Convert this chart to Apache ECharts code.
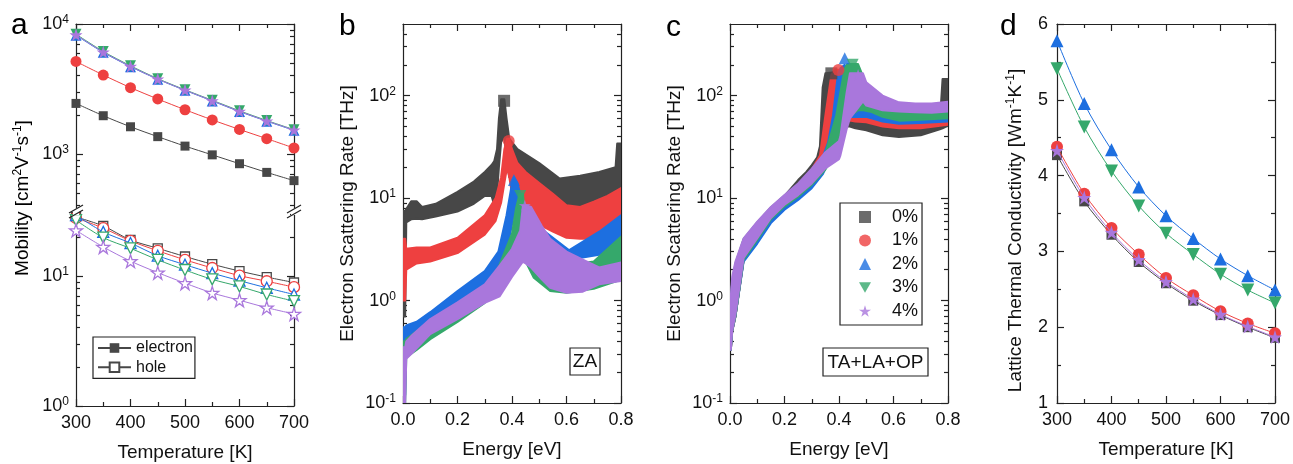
<!DOCTYPE html>
<html>
<head>
<meta charset="utf-8">
<script src="https://cdn.jsdelivr.net/npm/echarts@6/dist/echarts.min.js"></script>
<style>
  html, body { margin: 0; padding: 0; background: #fff; }
  #main { width: 1293px; height: 464px; }
</style>
</head>
<body>
<div id="main"></div>
<script>
// ---- data ----
var temps = [300, 350, 400, 450, 500, 550, 600, 650, 700];
var strains = ['0%', '1%', '2%', '3%', '4%'];

// panel a, electron mobility (upper part, filled markers)
var elec0 = [2450, 1970, 1620, 1360, 1150, 985, 842, 722, 624];
var elec1 = [5150, 4050, 3240, 2650, 2190, 1830, 1545, 1312, 1112];
var elec2 = [8200, 6050, 4700, 3760, 3090, 2560, 2120, 1790, 1520];
var elec3 = [8350, 6150, 4770, 3800, 3120, 2590, 2150, 1810, 1540];
var elec4 = [8250, 6080, 4720, 3770, 3100, 2570, 2130, 1795, 1530];
// panel a, hole mobility (lower part, open markers)
var hole0 = [28.4, 24.2, 18.9, 16.3, 14.1, 12.3, 10.9, 9.8, 8.9];
var hole1 = [27.9, 23.3, 18.6, 15.6, 13.3, 11.5, 10.05, 9.1, 8.2];
var hole2 = [29.3, 21.8, 17.9, 14.3, 12.2, 10.5, 9.2, 8.1, 7.2];
var hole3 = [26.8, 19.7, 16.3, 13.3, 11.1, 9.4, 8.3, 7.2, 6.4];
var hole4 = [22.4, 16.7, 13.0, 10.6, 8.8, 7.4, 6.5, 5.7, 5.1];

// panel b, ZA scattering rate bands: energy, lower edge, upper edge
var bE0 = [0.002, 0.008, 0.012, 0.03, 0.05, 0.07, 0.12, 0.2, 0.26, 0.3, 0.325, 0.335, 0.345, 0.352, 0.36, 0.372, 0.38, 0.39, 0.42, 0.5, 0.575, 0.65, 0.72, 0.78, 0.786, 0.8];
var bLo0 = [0.7, 0.7, 5.8, 6.2, 6.3, 6.2, 6.6, 7.4, 8.8, 10.5, 10.5, 8.5, 11, 20, 35, 40, 24, 16, 14, 10.5, 7.7, 8.2, 9, 10, 10, 10];
var bHi0 = [7.5, 7.5, 7.8, 9.3, 9.3, 8.2, 8.8, 11.5, 14.5, 18, 21, 23, 30, 60, 92, 92, 60, 38, 30, 22, 15.5, 16.5, 18, 20, 34, 34];
var bE1 = [0.002, 0.008, 0.012, 0.05, 0.1, 0.2, 0.3, 0.34, 0.36, 0.372, 0.382, 0.39, 0.4, 0.42, 0.45, 0.5, 0.55, 0.6, 0.65, 0.7, 0.75, 0.8];
var bLo1 = [1.0, 1.0, 2.0, 2.3, 2.4, 2.9, 4.4, 6.0, 9, 14, 20, 16, 11, 8, 6.8, 5.5, 4.7, 4.1, 4.0, 4.0, 4.5, 5.1];
var bHi1 = [4.0, 4.0, 3.2, 3.3, 3.3, 4.1, 6.8, 10, 16, 30, 38, 38, 30, 22, 18, 14, 11, 8.5, 8.2, 9.2, 10.5, 12.5];
var bE2 = [0.002, 0.008, 0.012, 0.05, 0.1, 0.2, 0.3, 0.35, 0.38, 0.4, 0.407, 0.42, 0.44, 0.47, 0.53, 0.61, 0.72, 0.8];
var bLo2 = [0.12, 0.12, 0.41, 0.45, 0.55, 0.82, 1.24, 1.8, 3.0, 5.5, 7, 6, 4.5, 3.5, 2.8, 2.5, 2.8, 4.0];
var bHi2 = [0.55, 0.55, 0.57, 0.62, 0.77, 1.24, 1.94, 3.0, 6.8, 14, 16, 14, 8.5, 6, 4.5, 3.1, 4.7, 6.8];
var bE3 = [0.002, 0.008, 0.012, 0.05, 0.1, 0.2, 0.3, 0.35, 0.4, 0.415, 0.428, 0.44, 0.45, 0.48, 0.54, 0.6, 0.7, 0.8];
var bLo3 = [0.1, 0.1, 0.28, 0.33, 0.42, 0.62, 0.95, 1.3, 2.4, 3.2, 3.5, 3.2, 2.4, 1.67, 1.24, 1.19, 1.3, 1.6];
var bHi3 = [0.4, 0.4, 0.42, 0.5, 0.62, 0.92, 1.4, 2.1, 4.5, 8, 11, 11, 6, 4, 2.6, 2.2, 2.4, 4.2];
var bE4 = [0.002, 0.008, 0.012, 0.03, 0.1, 0.2, 0.3, 0.355, 0.4, 0.43, 0.44, 0.45, 0.47, 0.51, 0.54, 0.6, 0.66, 0.72, 0.8];
var bLo4 = [0.1, 0.1, 0.27, 0.3, 0.47, 0.66, 0.95, 1.1, 1.7, 2.2, 2.4, 2.3, 2.1, 1.6, 1.33, 1.19, 1.22, 1.44, 1.55];
var bHi4 = [0.35, 0.35, 0.4, 0.45, 0.66, 0.96, 1.44, 2.2, 3.2, 4.8, 8.4, 8.5, 8.2, 5.3, 4.0, 3.0, 2.5, 2.1, 2.35];
var bPeakE = [0.371, 0.388, 0.407, 0.43, 0.447];
var bPeakV = [89, 36, 15, 10.5, 8.5];

// panel c, TA+LA+OP scattering rate bands
var cE0 = [0.003, 0.008, 0.02, 0.05, 0.1, 0.15, 0.2, 0.25, 0.28, 0.3, 0.32, 0.33, 0.34, 0.35, 0.375, 0.39, 0.41, 0.44, 0.46, 0.5, 0.56, 0.62, 0.7, 0.77, 0.78, 0.8];
var cLo0 = [0.33, 0.5, 0.7, 2.5, 3.9, 6.2, 8.3, 10.3, 12, 13.5, 16, 18, 22, 28, 40, 46, 50, 50, 48, 46, 41, 39.5, 41, 47, 48, 51];
var cHi0 = [1.0, 1.5, 2.2, 3.9, 5.7, 8.0, 10.5, 15, 18, 21, 25, 32, 120, 165, 168, 140, 100, 70, 62, 58, 50, 48, 50, 55, 145, 145];
var cE1 = [0.003, 0.008, 0.02, 0.05, 0.1, 0.15, 0.2, 0.25, 0.3, 0.33, 0.35, 0.372, 0.385, 0.405, 0.42, 0.44, 0.46, 0.5, 0.56, 0.62, 0.7, 0.8];
var cLo1 = [0.33, 0.5, 0.7, 2.5, 3.9, 6.2, 8.3, 10.3, 13.3, 17, 22, 30, 45, 55, 57, 57, 56, 55, 50, 48, 48, 52];
var cHi1 = [1.0, 1.5, 2.2, 3.9, 5.7, 8.0, 10.5, 13.5, 19, 26, 64, 160, 180, 178, 140, 100, 80, 66, 58, 55, 56, 64];
var cE2 = [0.003, 0.008, 0.02, 0.05, 0.1, 0.15, 0.2, 0.25, 0.3, 0.34, 0.36, 0.378, 0.396, 0.405, 0.421, 0.43, 0.45, 0.5, 0.56, 0.62, 0.7, 0.8];
var cLo2 = [0.33, 0.5, 0.7, 2.4, 3.6, 5.7, 7.7, 9.6, 12.5, 17, 22, 30, 40, 50, 58, 62, 62, 62, 56, 53, 54, 56];
var cHi2 = [1.0, 1.5, 2.2, 3.9, 5.6, 7.9, 10.4, 13.3, 18.5, 25, 35, 64, 160, 185, 200, 170, 120, 75, 66, 62, 63, 70];
var cE3 = [0.003, 0.008, 0.02, 0.05, 0.1, 0.15, 0.2, 0.25, 0.3, 0.35, 0.39, 0.42, 0.43, 0.47, 0.49, 0.52, 0.56, 0.62, 0.7, 0.8];
var cLo3 = [0.33, 0.5, 0.7, 2.5, 3.9, 6.2, 8.3, 10.3, 13.5, 19, 28, 45, 60, 72, 72, 69, 62, 57, 58, 60];
var cHi3 = [1.0, 1.5, 2.3, 4.0, 5.8, 8.1, 10.6, 13.6, 19, 27, 64, 180, 203, 203, 150, 100, 80, 72, 72, 78];
var cE4 = [0.003, 0.008, 0.02, 0.05, 0.1, 0.15, 0.2, 0.25, 0.3, 0.35, 0.4, 0.405, 0.428, 0.44, 0.488, 0.5, 0.56, 0.62, 0.68, 0.74, 0.8];
var cLo4 = [0.33, 0.5, 0.73, 2.6, 4.05, 6.4, 8.6, 10.7, 13.9, 19.5, 24, 26, 47, 60, 88, 80, 72, 70, 69, 68, 70];
var cHi4 = [1.1, 1.7, 2.4, 4.05, 5.9, 8.2, 10.7, 13.9, 19.4, 28, 36, 40, 107, 165, 165, 135, 100, 86, 84, 84, 87];
var cPeakE = [0.372, 0.398, 0.421, 0.45, 0.47];
var cPeakV = [165, 178, 232, 200, 160];

// panel d, lattice thermal conductivity
var kappa0 = [4.27, 3.66, 3.22, 2.86, 2.58, 2.35, 2.16, 2.0, 1.86];
var kappa1 = [4.38, 3.76, 3.31, 2.96, 2.65, 2.42, 2.21, 2.05, 1.92];
var kappa2 = [5.78, 4.95, 4.34, 3.85, 3.47, 3.17, 2.9, 2.68, 2.49];
var kappa3 = [5.41, 4.64, 4.06, 3.6, 3.24, 2.96, 2.7, 2.49, 2.32];
var kappa4 = [4.33, 3.71, 3.25, 2.89, 2.6, 2.37, 2.17, 2.01, 1.87];

// ---- styling ----
var FONT = '"Liberation Sans", Arial, sans-serif';
var AXC = '#222';
var COLORS = ['#474747', '#ee4040', '#1d6fe0', '#35a86b', '#a977dc'];
var STAR = 'path://M0,-10L2.245,-3.09L9.511,-3.09L3.633,1.18L5.878,8.09L0,3.82L-5.878,8.09L-3.633,1.18L-9.511,-3.09L-2.245,-3.09Z';
var DOWN_TRI = 'path://M0,0L10,0L5,8.66Z';
var SYMBOLS = ['rect', 'circle', 'triangle', 'triangle', STAR];
var ROT = [0, 0, 0, 180, 0];

var GA = {left: 76, width: 218, top: 24, split: 212, bottom: 406};
var GB = {left: 403, top: 24, width: 218, height: 382};
var GC = {left: 730, top: 24, width: 218, height: 382};
var GD = {left: 1057, top: 24, width: 219, height: 382};

var supRich = {
  n: {fontFamily: FONT, fontSize: 19, color: '#111', lineHeight: 22},
  s: {fontFamily: FONT, fontSize: 12, color: '#111', lineHeight: 12, verticalAlign: 'top'}
};
var powRich = {
  m: {fontFamily: FONT, fontSize: 18, color: '#111', lineHeight: 20},
  s: {fontFamily: FONT, fontSize: 12, color: '#111', lineHeight: 12, verticalAlign: 'top'}
};

function pairs(xs, ys) { return xs.map(function (x, i) { return [x, ys[i]]; }); }
function rows(e, lo, hi) { return e.map(function (x, i) { return [x, lo[i], hi[i]]; }); }
function powLabel(v) {
  var e = Math.round(Math.log(v) / Math.LN10);
  return '{m|10}{s|' + e + '}';
}

function xAxis(grid, pos, min, max, interval, labels, name, fmt) {
  return {
    type: 'value', gridIndex: grid, position: pos, min: min, max: max, interval: interval,
    name: name || '', nameLocation: 'middle', nameGap: 37,
    nameTextStyle: {fontFamily: FONT, fontSize: 19, color: '#111'},
    axisLine: {show: true, onZero: false, lineStyle: {color: AXC, width: 1.2}},
    axisTick: {show: true, inside: true, length: 7, lineStyle: {color: AXC, width: 1.2}},
    minorTick: {show: true, splitNumber: 2, length: 4, lineStyle: {color: AXC, width: 1.2}},
    axisLabel: {show: labels, margin: 8, fontFamily: FONT, fontSize: 18, color: '#111', formatter: fmt},
    splitLine: {show: false}
  };
}

// one log axis side = a major-tick axis and a minor-tick axis on the same spot
function logSide(grid, pos, min, max, majors, minors, labels, name, gap) {
  return [{
    type: 'log', logBase: 10, gridIndex: grid, position: pos, min: min, max: max,
    name: name || '', nameLocation: 'middle', nameGap: gap || 44,
    nameTextStyle: {fontFamily: FONT, fontSize: 19, color: '#111', rich: supRich},
    axisLine: {show: true, lineStyle: {color: AXC, width: 1.2}},
    axisTick: {show: true, inside: true, length: 7, customValues: majors, lineStyle: {color: AXC, width: 1.2}},
    axisLabel: {show: labels, customValues: majors, margin: 7, formatter: powLabel, rich: powRich},
    splitLine: {show: false}
  }, {
    type: 'log', logBase: 10, gridIndex: grid, position: pos, min: min, max: max,
    axisLine: {show: false},
    axisTick: {show: true, inside: true, length: 4, customValues: minors, lineStyle: {color: AXC, width: 1.2}},
    axisLabel: {show: false},
    splitLine: {show: false}
  }];
}

function linY(grid, pos, labels, name) {
  return {
    type: 'value', gridIndex: grid, position: pos, min: 1, max: 6, interval: 1,
    name: name || '', nameLocation: 'middle', nameGap: 30,
    nameTextStyle: {fontFamily: FONT, fontSize: 19, color: '#111', rich: supRich, padding: [0, 34, 0, 0]},
    axisLine: {show: true, lineStyle: {color: AXC, width: 1.2}},
    axisTick: {show: true, inside: true, length: 7, lineStyle: {color: AXC, width: 1.2}},
    minorTick: {show: true, splitNumber: 2, length: 4, lineStyle: {color: AXC, width: 1.2}},
    axisLabel: {show: labels, margin: 9, fontFamily: FONT, fontSize: 18, color: '#111'},
    splitLine: {show: false}
  };
}

var upMajor = [1000, 10000];
var upMinor = [400, 500, 600, 700, 800, 900, 2000, 3000, 4000, 5000, 6000, 7000, 8000, 9000];
var lowMajor = [1, 10];
var lowMinor = [2, 3, 4, 5, 6, 7, 8, 9, 20, 30];
var rateMajor = [0.1, 1, 10, 100];
var rateMinor = [0.2, 0.3, 0.4, 0.5, 0.6, 0.7, 0.8, 0.9, 2, 3, 4, 5, 6, 7, 8, 9,
  20, 30, 40, 50, 60, 70, 80, 90, 200, 300, 400];
var eFmt = function (v) { return v.toFixed(1); };

var xAxes = [
  xAxis(0, 'top', 300, 700, 100, false),                        // 0 a upper
  xAxis(1, 'bottom', 300, 700, 100, true, 'Temperature [K]'),   // 1 a lower
  xAxis(2, 'bottom', 0, 0.8, 0.2, true, 'Energy [eV]', eFmt),   // 2 b
  xAxis(2, 'top', 0, 0.8, 0.2, false),                          // 3
  xAxis(3, 'bottom', 0, 0.8, 0.2, true, 'Energy [eV]', eFmt),   // 4 c
  xAxis(3, 'top', 0, 0.8, 0.2, false),                          // 5
  xAxis(4, 'bottom', 300, 700, 100, true, 'Temperature [K]'),   // 6 d
  xAxis(4, 'top', 300, 700, 100, false)                         // 7
];

var rateName = '{n|Electron Scattering Rate [THz]}';
var yAxes = [].concat(
  logSide(0, 'left', 358, 10000, upMajor, upMinor, true),        // 0,1
  logSide(0, 'right', 358, 10000, upMajor, upMinor, false),      // 2,3
  logSide(1, 'left', 1, 31, lowMajor, lowMinor, true),           // 4,5
  logSide(1, 'right', 1, 31, lowMajor, lowMinor, false),         // 6,7
  logSide(2, 'left', 0.1, 500, rateMajor, rateMinor, true, rateName, 44),  // 8,9
  logSide(2, 'right', 0.1, 500, rateMajor, rateMinor, false),    // 10,11
  logSide(3, 'left', 0.1, 500, rateMajor, rateMinor, true, rateName, 44),  // 12,13
  logSide(3, 'right', 0.1, 500, rateMajor, rateMinor, false),    // 14,15
  [linY(4, 'left', true, '{n|Lattice Thermal Conductivity [Wm}{s|-1}{n|K}{s|-1}{n|]}'),  // 16
   linY(4, 'right', false)]                                      // 17
);

function lineSeries(xi, yi, ys, k, open, size, name) {
  return {
    type: 'line', name: name, xAxisIndex: xi, yAxisIndex: yi, data: pairs(temps, ys),
    smooth: 0.3, symbol: SYMBOLS[k], symbolRotate: ROT[k], symbolSize: size, showAllSymbol: true,
    lineStyle: {color: COLORS[k], width: 1},
    itemStyle: open ? {color: '#fff', borderColor: COLORS[k], borderWidth: 1.3} : {color: COLORS[k]},
    emphasis: {disabled: true}, z: 3 + k
  };
}

function bandSeries(xi, yi, data, k) {
  var color = COLORS[k];
  return {
    type: 'custom', xAxisIndex: xi, yAxisIndex: yi, data: data, clip: true, silent: true, z: 2 + k,
    renderItem: function (params, api) {
      if (params.dataIndex !== 0) return null;
      var top = [], bot = [];
      data.forEach(function (r) {
        top.push(api.coord([r[0], r[2]]));
        bot.unshift(api.coord([r[0], r[1]]));
      });
      return {type: 'polygon', shape: {points: top.concat(bot)},
        style: {fill: color, stroke: color, lineWidth: 2, lineJoin: 'round'}};
    }
  };
}

function peakSeries(xi, yi, e, v, k, name) {
  return {
    type: 'scatter', name: name, xAxisIndex: xi, yAxisIndex: yi, data: [[e[k], v[k]]],
    symbol: SYMBOLS[k], symbolRotate: ROT[k], symbolSize: 12, symbolKeepAspect: true,
    itemStyle: {color: COLORS[k]}, emphasis: {disabled: true}, z: 8
  };
}

var elec = [elec0, elec1, elec2, elec3, elec4];
var hole = [hole0, hole1, hole2, hole3, hole4];
var kappa = [kappa0, kappa1, kappa2, kappa3, kappa4];
var bBands = [rows(bE0, bLo0, bHi0), rows(bE1, bLo1, bHi1), rows(bE2, bLo2, bHi2), rows(bE3, bLo3, bHi3), rows(bE4, bLo4, bHi4)];
var cBands = [rows(cE0, cLo0, cHi0), rows(cE1, cLo1, cHi1), rows(cE2, cLo2, cHi2), rows(cE3, cLo3, cHi3), rows(cE4, cLo4, cHi4)];
var aSize = [9, 11, 11, 11, 13];
var dSize = [10, 12, 13, 13, 14];

var series = [];
for (var k = 0; k < 5; k++) {
  series.push(lineSeries(0, 0, elec[k], k, false, aSize[k], k === 0 ? 'electron' : 'e' + k));
  series.push(lineSeries(1, 4, hole[k], k, true, aSize[k], k === 0 ? 'hole' : 'h' + k));
  series.push(bandSeries(2, 8, bBands[k], k));
  series.push(peakSeries(2, 8, bPeakE, bPeakV, k, 'b' + k));
  series.push(bandSeries(4, 12, cBands[k], k));
  series.push(peakSeries(4, 12, cPeakE, cPeakV, k, strains[k]));
  series.push(lineSeries(6, 16, kappa[k], k, false, dSize[k], 'k' + k));
}

// panel letters, boxed labels, axis-break marks
function letter(t, x, y) {
  return {type: 'text', x: x, y: y, style: {text: t, fontFamily: FONT, fontSize: 30, fill: '#000', verticalAlign: 'middle'}};
}
function breakMark(x, y) {
  return [
    {type: 'rect', shape: {x: x - 3, y: y - 4, width: 6, height: 7}, style: {fill: '#fff'}, z: 20},
    {type: 'line', shape: {x1: x - 7, y1: y + 1, x2: x + 7, y2: y - 7}, style: {stroke: AXC, lineWidth: 1.2}, z: 21},
    {type: 'line', shape: {x1: x - 7, y1: y + 6, x2: x + 7, y2: y - 2}, style: {stroke: AXC, lineWidth: 1.2}, z: 21}
  ];
}
var graphics = [
  letter('a', 11, 26), letter('b', 339, 27), letter('c', 666, 28), letter('d', 1000, 27),
  {type: 'text', x: 23, y: 198, rotation: Math.PI / 2,
   style: {text: '{n|Mobility [cm}{s|2}{n|V}{s|-1}{n|s}{s|-1}{n|]}', rich: supRich, align: 'center', verticalAlign: 'middle'}},
  {type: 'rect', shape: {x: 570, y: 348, width: 30, height: 27}, style: {fill: '#fff', stroke: AXC, lineWidth: 1.2}, z: 20},
  {type: 'text', x: 585, y: 362, style: {text: 'ZA', fontFamily: FONT, fontSize: 19, fill: '#111', align: 'center', verticalAlign: 'middle'}, z: 21},
  {type: 'rect', shape: {x: 823, y: 348, width: 105, height: 28}, style: {fill: '#fff', stroke: AXC, lineWidth: 1.2}, z: 20},
  {type: 'text', x: 875.5, y: 362.5, style: {text: 'TA+LA+OP', fontFamily: FONT, fontSize: 19, fill: '#111', align: 'center', verticalAlign: 'middle'}, z: 21}
].concat(breakMark(GA.left, GA.split), breakMark(GA.left + GA.width, GA.split));

var strainLegend = strains.map(function (s, i) {
  return i === 3 ? {name: s, icon: DOWN_TRI} : {name: s};
});

var option = {
  animation: false,
  backgroundColor: '#fff',
  grid: [
    {left: GA.left, top: GA.top, width: GA.width, height: GA.split - GA.top},
    {left: GA.left, top: GA.split, width: GA.width, height: GA.bottom - GA.split},
    {left: GB.left, top: GB.top, width: GB.width, height: GB.height},
    {left: GC.left, top: GC.top, width: GC.width, height: GC.height},
    {left: GD.left, top: GD.top, width: GD.width, height: GD.height}
  ],
  xAxis: xAxes,
  yAxis: yAxes,
  legend: [{
    data: ['electron', 'hole'], left: 93, top: 337, orient: 'vertical',
    padding: [3, 2, 3, 4], itemWidth: 33, itemHeight: 12, itemGap: 3.3,
    borderColor: AXC, borderWidth: 1.2, selectedMode: false,
    textStyle: {fontFamily: FONT, fontSize: 16, color: '#111', lineHeight: 16}
  }, {
    data: strainLegend, left: 840, top: 203, orient: 'vertical',
    padding: [5, 4, 5, 19], itemWidth: 12, itemHeight: 12, itemGap: 5.5,
    borderColor: AXC, borderWidth: 1.2, selectedMode: false, symbolKeepAspect: true,
    textStyle: {fontFamily: FONT, fontSize: 18, color: '#111', lineHeight: 18, padding: [0, 0, 0, 16]}
  }],
  graphic: graphics,
  series: series
};

var chart = echarts.init(document.getElementById('main'));
chart.setOption(option);
</script>
</body>
</html>
